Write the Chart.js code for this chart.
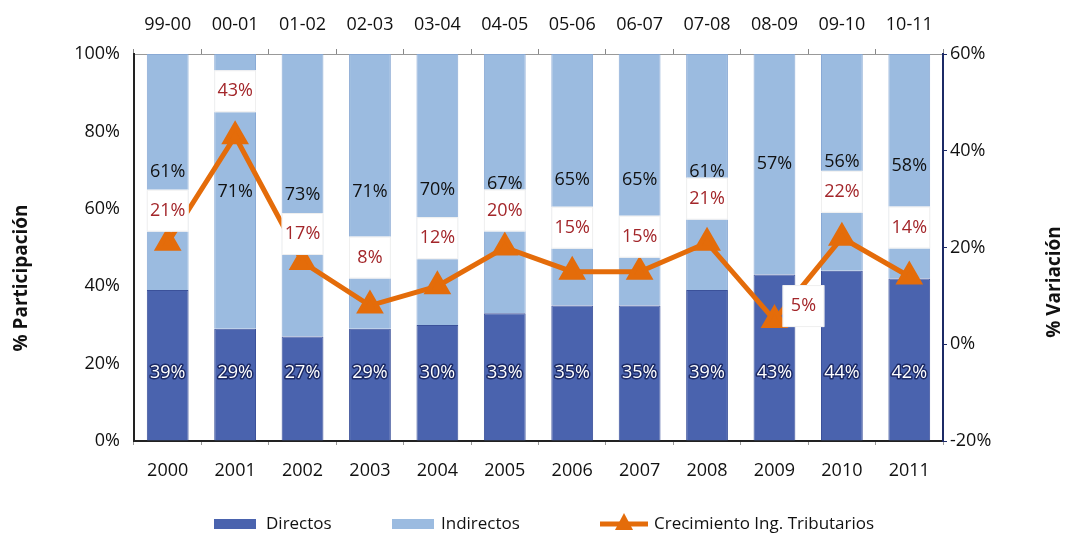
<!DOCTYPE html>
<html>
<head>
<meta charset="utf-8">
<script src="https://cdn.jsdelivr.net/npm/chart.js@4.4.0/dist/chart.umd.min.js"></script>
<style>
  html, body { margin: 0; background: #fff; }
  #wrap { width: 1069px; height: 533px; }
</style>
</head>
<body>
<div id="wrap"><canvas id="chart"></canvas></div>
<script>
const years = ['2000', '2001', '2002', '2003', '2004', '2005', '2006', '2007', '2008', '2009', '2010', '2011'];
const periods = ['99-00', '00-01', '01-02', '02-03', '03-04', '04-05', '05-06', '06-07', '07-08', '08-09', '09-10', '10-11'];
const directos = [39, 29, 27, 29, 30, 33, 35, 35, 39, 43, 44, 42];
const indirectos = [61, 71, 73, 71, 70, 67, 65, 65, 61, 57, 56, 58];
const crecimiento = [21, 43, 17, 8, 12, 20, 15, 15, 21, 5, 22, 14];

const darkBlue = '#4a63ae';
const lightBlue = '#9bbbe0';
const orange = '#e46c0a';
const fontFamily = '"Open Sans", sans-serif';

Chart.defaults.font.family = fontFamily;
Chart.defaults.font.size = 18;
Chart.defaults.color = '#111';

// data labels, white boxes for growth, legend and axis titles
const extras = {
  id: 'extras',
  afterDatasetsDraw(chart) {
    const ctx = chart.ctx;
    const y = chart.scales.y;
    const dMeta = chart.getDatasetMeta(0);
    const iMeta = chart.getDatasetMeta(1);
    const gMeta = chart.getDatasetMeta(2);
    // how far each growth label sits above its marker (px)
    const lift = [32, 45, 28, 48, 48, 37, 44, 35, 44, 14, 46, 49];
    ctx.save();
    ctx.textAlign = 'center';
    ctx.textBaseline = 'middle';
    ctx.font = '18px ' + fontFamily;

    iMeta.data.forEach((bar, i) => {
      ctx.fillStyle = '#111';
      ctx.fillText(indirectos[i] + '%', bar.x, (bar.y + bar.base) / 2);
    });

    const dy = y.getPixelForValue(17.5);
    dMeta.data.forEach((bar, i) => {
      ctx.lineWidth = 3;
      ctx.lineJoin = 'round';
      ctx.strokeStyle = '#1c2a66';
      ctx.strokeText(directos[i] + '%', bar.x, dy);
      ctx.fillStyle = '#fff';
      ctx.fillText(directos[i] + '%', bar.x, dy);
    });

    gMeta.data.forEach((pt, i) => {
      const w = dMeta.data[i].width;
      let cx = pt.x, cy = pt.y - lift[i];
      if (i === 9) cx = pt.x + 29; // 2009 label sits to the right of the point
      ctx.fillStyle = '#fff';
      ctx.fillRect(cx - w / 2, cy - 21, w, 42);
      ctx.strokeStyle = '#efefef';
      ctx.lineWidth = 1;
      ctx.strokeRect(cx - w / 2 + 0.5, cy - 20.5, w - 1, 41);
      ctx.fillStyle = '#a3262a';
      ctx.fillText(crecimiento[i] + '%', cx, cy);
    });
    ctx.restore();
  },
  afterDraw(chart) {
    const ctx = chart.ctx;
    ctx.save();
    // axis titles
    ctx.font = 'bold 19px ' + fontFamily;
    ctx.fillStyle = '#111';
    ctx.textAlign = 'center';
    ctx.textBaseline = 'middle';
    ctx.translate(22, 278);
    ctx.rotate(-Math.PI / 2);
    ctx.fillText('% Participación', 0, 0);
    ctx.setTransform(1, 0, 0, 1, 0, 0);
    ctx.translate(1055, 282);
    ctx.rotate(-Math.PI / 2);
    ctx.fillText('% Variación', 0, 0);
    ctx.setTransform(1, 0, 0, 1, 0, 0);

    // legend
    const ly = 524;
    ctx.font = '17px ' + fontFamily;
    ctx.textAlign = 'left';
    ctx.fillStyle = darkBlue;
    ctx.fillRect(214, ly - 5, 42, 10);
    ctx.fillStyle = '#111';
    ctx.fillText('Directos', 266, ly);
    ctx.fillStyle = lightBlue;
    ctx.fillRect(392, ly - 5, 42, 10);
    ctx.fillStyle = '#111';
    ctx.fillText('Indirectos', 441, ly);
    ctx.strokeStyle = orange;
    ctx.lineWidth = 5;
    ctx.beginPath();
    ctx.moveTo(600, ly);
    ctx.lineTo(648, ly);
    ctx.stroke();
    ctx.fillStyle = orange;
    ctx.beginPath();
    ctx.moveTo(624, ly - 11);
    ctx.lineTo(633, ly + 6);
    ctx.lineTo(615, ly + 6);
    ctx.closePath();
    ctx.fill();
    ctx.fillStyle = '#111';
    ctx.fillText('Crecimiento Ing. Tributarios', 654, ly);
    ctx.restore();
  }
};

const pct = v => v + '%';

new Chart(document.getElementById('chart'), {
  type: 'bar',
  data: {
    labels: years,
    datasets: [
      {
        label: 'Directos',
        data: directos,
        backgroundColor: darkBlue,
        borderColor: '#3b519a',
        borderWidth: 1,
        barPercentage: 0.62,
        categoryPercentage: 1,
        yAxisID: 'y',
        order: 1
      },
      {
        label: 'Indirectos',
        data: indirectos,
        backgroundColor: lightBlue,
        borderColor: '#89a9d4',
        borderWidth: 1,
        barPercentage: 0.62,
        categoryPercentage: 1,
        yAxisID: 'y',
        order: 1
      },
      {
        type: 'line',
        label: 'Crecimiento Ing. Tributarios',
        data: crecimiento,
        borderColor: orange,
        backgroundColor: orange,
        borderWidth: 5,
        pointStyle: 'triangle',
        pointRadius: 11,
        pointBackgroundColor: orange,
        pointBorderColor: orange,
        tension: 0,
        yAxisID: 'y2',
        order: 0
      }
    ]
  },
  options: {
    responsive: true,
    maintainAspectRatio: false,
    animation: false,
    layout: { padding: 0 },
    plugins: {
      legend: { display: false },
      tooltip: { enabled: false }
    },
    scales: {
      x: {
        stacked: true,
        position: 'bottom',
        offset: true,
        grid: { drawOnChartArea: false, offset: true, tickLength: 4, color: '#999' },
        border: { color: '#222', width: 2 },
        ticks: { padding: 15, color: '#111' },
        afterFit(s) { s.height = 92; }
      },
      x2: {
        type: 'category',
        labels: periods,
        position: 'top',
        offset: true,
        grid: { drawOnChartArea: false, offset: true, tickLength: 5, color: '#888' },
        border: { color: '#999', width: 1 },
        ticks: { padding: 13, color: '#111' },
        afterFit(s) { s.height = 54; }
      },
      y: {
        stacked: true,
        position: 'left',
        min: 0,
        max: 100,
        ticks: { stepSize: 20, callback: pct, padding: 14, color: '#111' },
        grid: { drawOnChartArea: false, drawTicks: false },
        border: { color: '#222', width: 2 },
        afterFit(s) { s.width = 134; }
      },
      y2: {
        position: 'right',
        min: -20,
        max: 60,
        ticks: { stepSize: 20, callback: pct, padding: 3, color: '#111' },
        grid: { drawOnChartArea: false, tickLength: 4, color: '#1c2a66' },
        border: { color: '#1c2a66', width: 2 },
        afterFit(s) { s.width = 126; }
      }
    }
  },
  plugins: [extras]
});
</script>
</body>
</html>
